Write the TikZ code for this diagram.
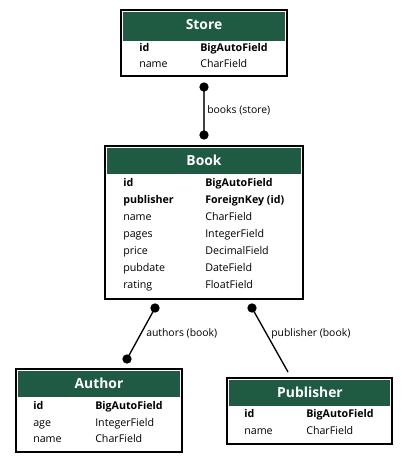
\documentclass[tikz,border=0pt]{standalone}
\usepackage{fontspec}
\setmainfont{Open Sans}
\definecolor{hdr}{HTML}{1E5B42}
\definecolor{edgegray}{HTML}{404040}
\begin{document}
\begin{tikzpicture}[x=0.75pt,y=-0.75pt,
  box/.style={draw=black,line width=1.5pt,fill=white},
  hdrbox/.style={fill=hdr},
  title/.style={font=\fontsize{10.4pt}{12pt}\selectfont\bfseries,text=white,inner sep=0pt},
  fld/.style={font=\fontsize{8pt}{9.5pt}\selectfont,anchor=mid west,inner sep=0pt},
  fldb/.style={fld,font=\fontsize{8pt}{9.5pt}\selectfont\bfseries},
  lbl/.style={font=\fontsize{7.8pt}{9pt}\selectfont,anchor=mid west,inner sep=0pt},
  dot/.style={fill=black,circle,minimum size=7pt,inner sep=0pt},
  rel/.style={draw=black,line width=1pt}]
\useasboundingbox (0,0) rectangle (408,463);
% Store
\draw[box] (121,10) rectangle (287,76);
\fill[hdrbox] (123,12) rectangle (285,41);
\node[title] (storeT) at (204,25) {Store};
\node[fldb] (s1a) at (139,47.5) {id};
\node[fldb] (s1b) at (200,47.5) {BigAutoField};
\node[fld] (s2a) at (139,64) {name};
\node[fld] (s2b) at (200,64) {CharField};
% Book
\draw[box] (105,146) rectangle (303,299);
\fill[hdrbox] (107,148) rectangle (301,174);
\node[title] (bookT) at (204,160) {Book};
\node[fldb] (b1a) at (123,182.5) {id};
\node[fldb] (b1b) at (205,182.5) {BigAutoField};
\node[fldb] (b2a) at (123,199.5) {publisher};
\node[fldb] (b2b) at (205,199.5) {ForeignKey (id)};
\node[fld] (b3a) at (123,216.5) {name};
\node[fld] (b3b) at (205,216.5) {CharField};
\node[fld] (b4a) at (123,233.5) {pages};
\node[fld] (b4b) at (205,233.5) {IntegerField};
\node[fld] (b5a) at (123,250.5) {price};
\node[fld] (b5b) at (205,250.5) {DecimalField};
\node[fld] (b6a) at (123,267.5) {pubdate};
\node[fld] (b6b) at (205,267.5) {DateField};
\node[fld] (b7a) at (123,284.5) {rating};
\node[fld] (b7b) at (205,284.5) {FloatField};
% Author
\draw[box] (16,369) rectangle (182,452);
\fill[hdrbox] (18,371) rectangle (180,397);
\node[title] (authT) at (99,383) {Author};
\node[fldb] (a1a) at (33,406) {id};
\node[fldb] (a1b) at (95,406) {BigAutoField};
\node[fld] (a2a) at (33,422.5) {age};
\node[fld] (a2b) at (95,422.5) {IntegerField};
\node[fld] (a3a) at (33,439) {name};
\node[fld] (a3b) at (95,439) {CharField};
% Publisher
\draw[box] (227,378) rectangle (392,444);
\fill[hdrbox] (229,380) rectangle (390,406);
\node[title] (pubT) at (310,392) {Publisher};
\node[fldb] (p1a) at (244,414) {id};
\node[fldb] (p1b) at (306,414) {BigAutoField};
\node[fld] (p2a) at (244,431) {name};
\node[fld] (p2b) at (306,431) {CharField};
% connectors
\coordinate (c1) at (204,87);
\coordinate (c2) at (204,135);
\coordinate (c3) at (155,308);
\coordinate (c4) at (127,359);
\coordinate (c5) at (252,308);
\coordinate (c6) at (288,372);
\draw[rel,draw=edgegray,line width=1.6pt] (c1) -- (c2);
\draw[rel] (c3) -- (c4);
\draw[rel] (c5) -- (c6);
\node[dot] (d1) at (c1) {};
\node[dot] (d2) at (c2) {};
\node[dot] (d3) at (c3) {};
\node[dot] (d4) at (c4) {};
\node[dot] (d5) at (c5) {};
\node[lbl] (l1) at (207,109.5) {books (store)};
\node[lbl] (l2) at (146,333) {authors (book)};
\node[lbl] (l3) at (271,333) {publisher (book)};
\end{tikzpicture}
\end{document}
